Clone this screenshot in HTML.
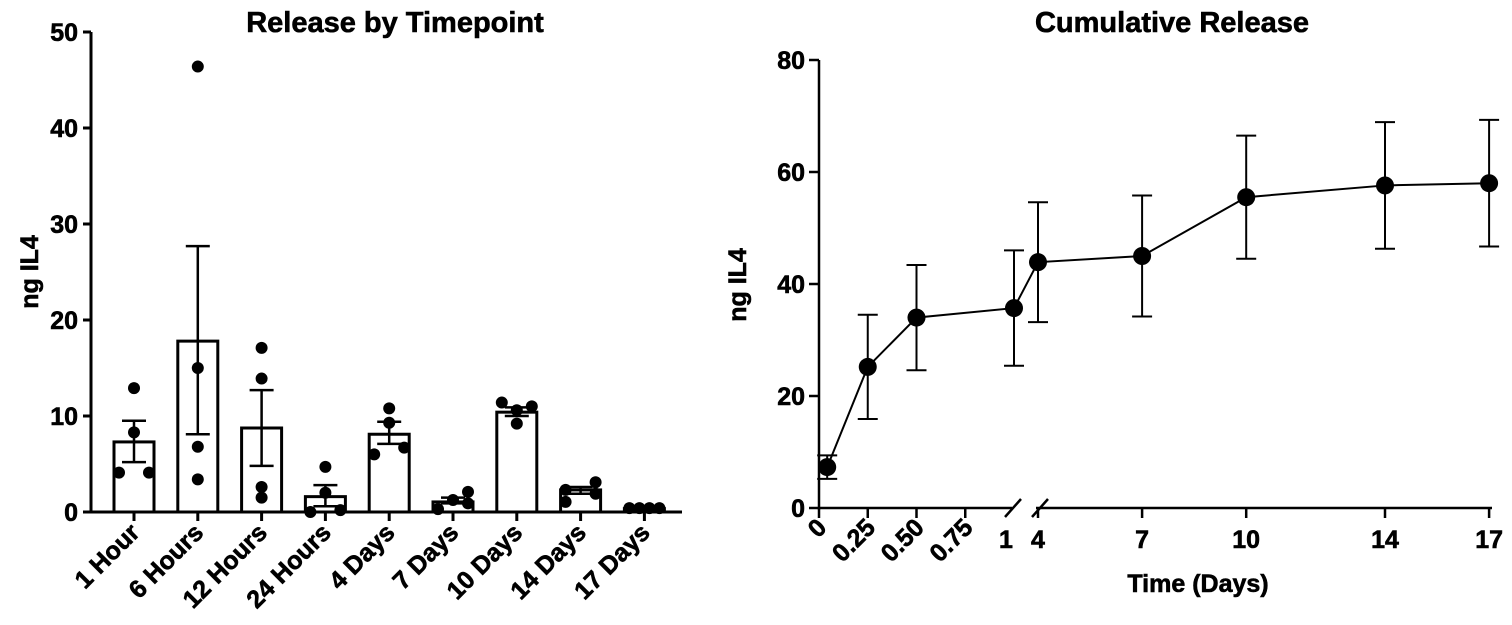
<!DOCTYPE html>
<html><head><meta charset="utf-8"><style>
html,body{margin:0;padding:0;background:#fff;}
svg{display:block;font-family:"Liberation Sans",Arial,sans-serif;font-weight:bold;}
svg text{stroke:#000;stroke-width:0.6px;}
</style></head><body>
<svg id="chart" width="1512" height="625" viewBox="0 0 1512 625"></svg>
<script>
// ---- Left chart data ----
const barCats = ["1 Hour","6 Hours","12 Hours","24 Hours","4 Days","7 Days","10 Days","14 Days","17 Days"];
const barMeans = [7.3, 17.8, 8.75, 1.6, 8.1, 1.05, 10.4, 2.3, 0.35];
const barErrHi = [9.5, 27.7, 12.7, 2.8, 9.4, 1.5, 10.9, 2.6, 0.45];
const barErrLo = [5.2, 8.1, 4.8, 0.6, 7.1, 0.9, 10.0, 1.9, 0.25];
const pointVals = [
  [4.1, 8.3, 12.9, 4.1],
  [46.4, 15.0, 6.8, 3.4],
  [17.1, 13.9, 2.6, 1.5],
  [4.7, 2.0, 0.0, 0.2],
  [10.8, 9.3, 6.0, 6.7],
  [0.3, 1.25, 2.1, 0.9],
  [11.4, 10.6, 11.0, 9.2],
  [2.3, 1.05, 3.1, 1.9],
  [0.4, 0.4, 0.4, 0.4]
];
const leftTicks = [0,10,20,30,40,50];
// ---- Right chart data ----
const cumTimes = [0.042, 0.25, 0.5, 1, 4, 7, 10, 14, 17];
const cumMeans = [7.3, 25.2, 34.0, 35.7, 43.9, 45.0, 55.5, 57.6, 58.0];
const cumSem = [2.1, 9.3, 9.4, 10.3, 10.7, 10.8, 11.0, 11.3, 11.3];
const rightYTicks = [0,20,40,60,80];
const seg1Ticks = [0,0.25,0.5,0.75,1];
const seg1Labels = ["0","0.25","0.50","0.75","1"];
const seg2Ticks = [4,7,10,14,17];

const NS="http://www.w3.org/2000/svg";
const svg=document.getElementById('chart');
function mk(tag,attrs,parent){const e=document.createElementNS(NS,tag);for(const k in attrs)e.setAttribute(k,attrs[k]);(parent||svg).appendChild(e);return e;}
function txt(s,attrs,parent){const e=mk('text',attrs,parent);e.textContent=s;return e;}

// ===== Left chart =====
const L={x0:91,x1:682,y0:512,yTop:32};
const ly=v=>L.y0-(v/50)*(L.y0-L.yTop);
const lx=i=>134+i*63.8;
const gL=mk('g',{});


let t=txt("Release by Timepoint",{x:395,y:32,'font-size':29,'text-anchor':'middle'},gL);

t=txt("ng IL4",{x:0,y:0,'font-size':25,'text-anchor':'middle',transform:'translate(38,272) rotate(-90)'},gL);

barMeans.forEach((m,i)=>{
  const r=mk('rect',{x:lx(i)-20,y:ly(m),width:40,height:L.y0-ly(m),fill:'#fff',stroke:'#000','stroke-width':3},gL);
  
  
});
barMeans.forEach((m,i)=>{
  const g=mk('g',{stroke:'#000','stroke-width':2.5},gL);
  
  
  mk('line',{x1:lx(i),x2:lx(i),y1:ly(barErrHi[i]),y2:ly(barErrLo[i])},g);
  mk('line',{x1:lx(i)-12,x2:lx(i)+12,y1:ly(barErrHi[i]),y2:ly(barErrHi[i])},g);
  mk('line',{x1:lx(i)-12,x2:lx(i)+12,y1:ly(barErrLo[i]),y2:ly(barErrLo[i])},g);
});
const jit=[[-15,0,0,15],[0,0,0,0],[0,0,0,0],[0,0,-15,15],[0,0,-15,15],[-15,0,15,15],[-15,0,15,0],[-15,-15,15,15],[-15,-5,5,15]];
pointVals.forEach((arr,i)=>arr.forEach((v,j)=>{
  const c=mk('circle',{cx:lx(i)+jit[i][j],cy:ly(v),r:6,fill:'#000'},gL);
  
  
}));
mk('line',{x1:L.x0,x2:L.x0,y1:L.yTop,y2:L.y0+1.5,stroke:'#000','stroke-width':3},gL);
mk('line',{x1:L.x0-1.5,x2:L.x1,y1:L.y0,y2:L.y0,stroke:'#000','stroke-width':3},gL);
leftTicks.forEach(v=>{
  mk('line',{x1:L.x0-8,x2:L.x0,y1:ly(v),y2:ly(v),stroke:'#000','stroke-width':3},gL);
  const e=txt(String(v),{x:L.x0-13,y:ly(v)+9,'font-size':25,'text-anchor':'end'},gL);
  
});
barCats.forEach((c,i)=>{
  mk('line',{x1:lx(i),x2:lx(i),y1:L.y0,y2:L.y0+9,stroke:'#000','stroke-width':3},gL);
  const e=txt(c,{x:0,y:0,'font-size':25,'text-anchor':'end',transform:`translate(${lx(i)+7},${L.y0+22}) rotate(-45)`},gL);
  
});

// ===== Right chart =====
const R={x0:819,y0:508,yTop:60};
const ry=v=>R.y0-(v/80)*(R.y0-R.yTop);
const rx=d=>d<=1?819+d*195:1038+(d-4)*34.7;
const gR=mk('g',{});


t=txt("Cumulative Release",{x:1172,y:32,'font-size':29,'text-anchor':'middle'},gR);

t=txt("ng IL4",{x:0,y:0,'font-size':25,'text-anchor':'middle',transform:'translate(746,285) rotate(-90)'},gR);

t=txt("Time (Days)",{x:1198,y:592,'font-size':25,'text-anchor':'middle'},gR);

mk('line',{x1:R.x0,x2:R.x0,y1:R.yTop,y2:R.y0+1.5,stroke:'#000','stroke-width':2.5},gR);
mk('line',{x1:R.x0-1,x2:1012,y1:R.y0,y2:R.y0,stroke:'#000','stroke-width':2.5},gR);
mk('line',{x1:1036,x2:1492,y1:R.y0,y2:R.y0,stroke:'#000','stroke-width':2.5},gR);
mk('line',{x1:1005,x2:1021,y1:R.y0+9,y2:R.y0-9,stroke:'#000','stroke-width':2.5},gR);
mk('line',{x1:1032,x2:1048,y1:R.y0+9,y2:R.y0-9,stroke:'#000','stroke-width':2.5},gR);
rightYTicks.forEach(v=>{
  mk('line',{x1:R.x0-10,x2:R.x0,y1:ry(v),y2:ry(v),stroke:'#000','stroke-width':2.5},gR);
  const e=txt(String(v),{x:R.x0-14,y:ry(v)+9,'font-size':25,'text-anchor':'end'},gR);
  
});
seg1Ticks.forEach((d,i)=>{
  if(d<1) mk('line',{x1:rx(d),x2:rx(d),y1:R.y0,y2:R.y0+10,stroke:'#000','stroke-width':2.5},gR);
  let e;
  if(d===1) e=txt(seg1Labels[i],{x:rx(d)-8,y:R.y0+40,'font-size':25,'text-anchor':'middle'},gR);
  else e=txt(seg1Labels[i],{x:0,y:0,'font-size':25,'text-anchor':'end',transform:`translate(${rx(d)+9},${R.y0+21}) rotate(-45)`},gR);
  
});
seg2Ticks.forEach(d=>{
  mk('line',{x1:rx(d),x2:rx(d),y1:R.y0,y2:R.y0+10,stroke:'#000','stroke-width':2.5},gR);
  const e=txt(String(d),{x:rx(d),y:R.y0+40,'font-size':25,'text-anchor':'middle'},gR);
  
});
const pl=mk('polyline',{points:cumTimes.map((d,i)=>rx(d)+','+ry(cumMeans[i])).join(' '),fill:'none',stroke:'#000','stroke-width':2},gR);

cumTimes.forEach((d,i)=>{
  const g=mk('g',{stroke:'#000','stroke-width':2},gR);
  
  const hi=ry(cumMeans[i]+cumSem[i]),lo=ry(cumMeans[i]-cumSem[i]),x=rx(d);
  mk('line',{x1:x,x2:x,y1:hi,y2:lo},g);
  mk('line',{x1:x-10,x2:x+10,y1:hi,y2:hi},g);
  mk('line',{x1:x-10,x2:x+10,y1:lo,y2:lo},g);
  const c=mk('circle',{cx:x,cy:ry(cumMeans[i]),r:9,fill:'#000'},gR);
  
});
</script>
</body></html>
